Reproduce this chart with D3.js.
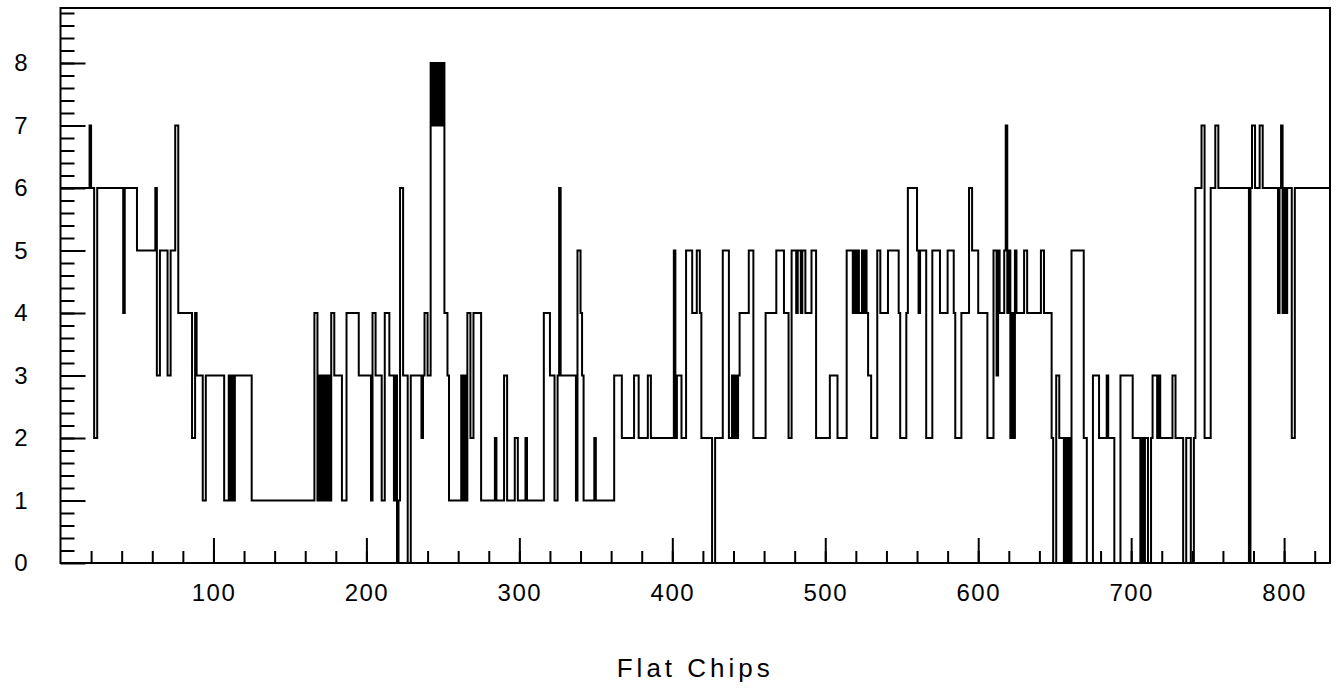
<!DOCTYPE html>
<html>
<head>
<meta charset="utf-8">
<script src="https://cdn.jsdelivr.net/npm/d3@7"></script>
<style>
  html, body { margin: 0; padding: 0; background: #fff; }
  svg { display: block; }
  text { font-family: "Liberation Sans", Arial, sans-serif; fill: #000; }
</style>
</head>
<body>
<svg id="chart" width="1340" height="689"></svg>
<script>
// Entries per flat chip, stored as runs of [entries, number of consecutive chips], chip 1 first
const chipRuns = [
  [6,19],[7,1],[6,2],[2,2],[6,17],[4,1],[6,8],
  [5,12],[6,1],[3,2],[5,5],[3,2],[5,3],[7,2],
  [4,9],[2,2],[4,1],[3,4],[1,2],[3,12],[1,3],[3,1],[1,1],[3,1],[1,1],[3,11],
  [1,41],
  [4,2],[1,1],[3,1],[1,1],[3,1],[1,1],[3,1],[1,1],[3,1],[1,1],
  [4,2],[3,5],[1,3],[4,8],[3,8],[1,1],[4,2],[3,4],[1,2],[4,3],[3,3],
  [1,1],[3,1],[0,1],[1,1],[6,2],[3,3],[0,2],[3,7],[2,1],[3,1],[4,2],[3,2],
  [8,1],[7,1],[8,1],[7,1],[8,1],[7,1],[8,1],[7,1],[8,1],
  [4,2],[3,1],[1,8],[3,1],[1,1],[3,1],[1,1],[4,2],[2,2],[4,5],
  [1,9],[2,1],[1,5],[3,2],[1,5],[2,2],[1,5],[2,1],[1,11],
  [4,4],[3,3],[1,2],[3,1],[6,1],[3,10],[1,1],[5,2],[4,1],[3,1],
  [1,7],[2,1],[1,12],
  [3,5],[2,8],[3,3],[2,6],[3,2],[2,15],[5,1],[2,1],[3,3],[2,3],[5,4],
  [4,3],[5,2],[4,1],[2,7],[0,2],[2,5],[5,4],[2,2],
  [3,1],[2,1],[3,1],[2,1],[3,1],
  [4,6],[5,3],[2,8],[4,7],[5,5],[4,3],[2,2],[5,3],[4,1],[5,2],[4,1],[5,2],[4,4],[5,3],
  [2,9],[3,5],[2,6],[5,4],
  [4,1],[5,1],[4,1],[5,1],[4,1],[4,1],[5,1],[4,1],[5,1],[4,1],
  [3,2],[2,4],[5,2],[4,5],[5,7],[4,1],[2,4],[4,1],
  [6,6],[5,1],[4,1],[5,4],[2,4],[5,5],[4,5],[5,4],[4,1],[2,4],[4,5],[6,2],[5,4],[4,6],[2,4],
  [5,2],[3,1],[5,1],[4,2],[4,1],[5,1],[7,1],[4,1],[5,1],
  [2,1],[4,1],[2,1],[5,1],[4,5],[5,2],[4,9],[5,2],[4,5],
  [2,1],[0,2],[3,2],[2,3],[0,1],[2,1],[0,1],[2,1],[0,1],
  [5,8],[2,2],[0,4],[3,4],[2,5],[3,1],[2,4],[0,4],[3,8],
  [2,5],[0,1],[2,1],[0,1],[2,2],[0,2],[2,1],[3,3],[2,1],[3,1],[2,8],[3,2],[2,5],[0,2],[2,3],[0,2],[2,1],
  [6,4],[7,2],[2,4],[6,3],[7,2],[6,20],[0,1],[6,1],[7,2],[6,3],[7,2],[6,10],
  [4,1],[6,1],[7,1],[4,1],[6,1],[4,1],
  [6,3],[2,2],[6,23]
];

const xRange = [0, 830];
const yRange = [0, 8.88];
const xMajorTicks = [100, 200, 300, 400, 500, 600, 700, 800];
const xMinorTicks = d3.range(20, 830, 20);
const yMajorTicks = [0, 1, 2, 3, 4, 5, 6, 7, 8];
const yMinorTicks = d3.range(0.2, 8.81, 0.2);
const xTitle = "Flat Chips";

// Expand the runs into one value per chip
const counts = chipRuns.flatMap(([v, n]) => Array(n).fill(v));

const svg = d3.select("#chart");
const frame = { left: 60.5, right: 1330, top: 8, bottom: 563 };

const x = d3.scaleLinear().domain(xRange).range([frame.left, frame.right]);
const y = d3.scaleLinear().domain(yRange).range([frame.bottom, frame.top]);

// Histogram outline: one step per chip bin [i, i+1)
const stepData = counts.map((c, i) => ({ lo: i, c }));
stepData.push({ lo: counts.length, c: counts[counts.length - 1] });

const line = d3.line()
  .x(d => x(d.lo))
  .y(d => y(d.c))
  .curve(d3.curveStepAfter);

svg.append("path")
  .datum(stepData)
  .attr("d", line)
  .attr("fill", "none")
  .attr("stroke", "#000")
  .attr("stroke-width", 2)
  .attr("stroke-linejoin", "miter");

// X axis: ticks pointing up into the frame
const xAxisMinor = d3.axisBottom(x).tickValues(xMinorTicks).tickSizeInner(-12).tickSizeOuter(0).tickFormat("");
const xAxisMajor = d3.axisBottom(x).tickValues(xMajorTicks).tickSizeInner(-25).tickSizeOuter(0)
  .tickPadding(21).tickFormat(d3.format("d"));

const gxMinor = svg.append("g").attr("transform", `translate(0,${frame.bottom})`).call(xAxisMinor);
const gxMajor = svg.append("g").attr("transform", `translate(0,${frame.bottom})`).call(xAxisMajor);
[gxMinor, gxMajor].forEach(g => {
  g.select(".domain").remove();
  g.selectAll(".tick line").attr("stroke", "#000").attr("stroke-width", 2);
});
gxMajor.selectAll(".tick text")
  .attr("font-size", 24)
  .attr("letter-spacing", 1.5)
  .attr("font-family", "Liberation Sans, Arial, sans-serif");

// Y axis: ticks pointing right into the frame
const yAxisMinor = d3.axisLeft(y).tickValues(yMinorTicks).tickSizeInner(-14).tickSizeOuter(0).tickFormat("");
const yAxisMajor = d3.axisLeft(y).tickValues(yMajorTicks).tickSizeInner(-25).tickSizeOuter(0)
  .tickPadding(33).tickFormat(d3.format("d"));

const gyMinor = svg.append("g").attr("transform", `translate(${frame.left},0)`).call(yAxisMinor);
const gyMajor = svg.append("g").attr("transform", `translate(${frame.left},0)`).call(yAxisMajor);
[gyMinor, gyMajor].forEach(g => {
  g.select(".domain").remove();
  g.selectAll(".tick line").attr("stroke", "#000").attr("stroke-width", 2);
});
gyMajor.selectAll(".tick text")
  .attr("font-size", 24)
  .attr("font-family", "Liberation Sans, Arial, sans-serif");

// Frame
svg.append("rect")
  .attr("x", frame.left).attr("y", frame.top)
  .attr("width", frame.right - frame.left).attr("height", frame.bottom - frame.top)
  .attr("fill", "none").attr("stroke", "#000").attr("stroke-width", 2);

// Axis title, centred under the frame
svg.append("text")
  .attr("x", (frame.left + frame.right) / 2).attr("y", 677)
  .attr("text-anchor", "middle")
  .attr("font-size", 26)
  .attr("letter-spacing", 4)
  .text(xTitle);
</script>
</body>
</html>
